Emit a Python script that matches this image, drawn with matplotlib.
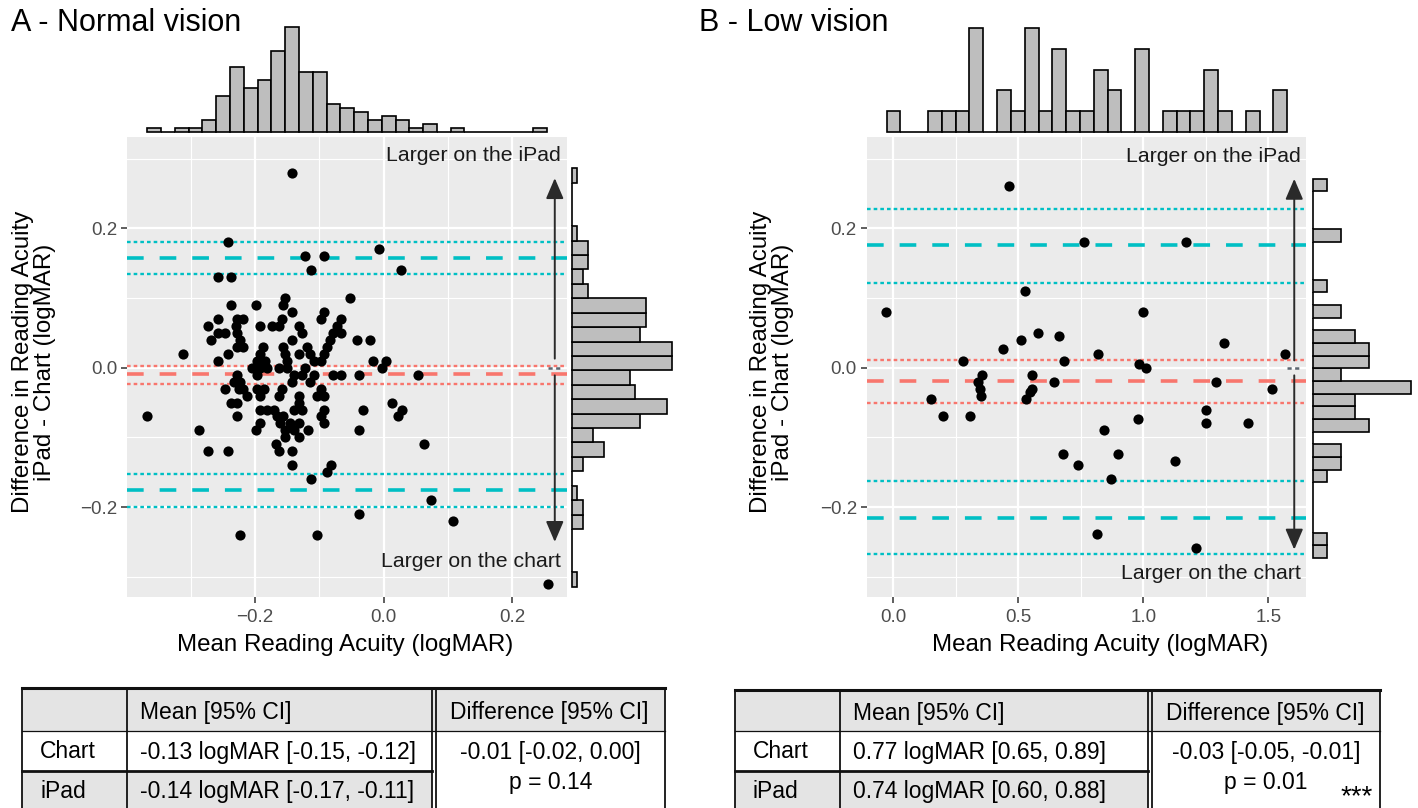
import numpy as np
import matplotlib
matplotlib.use('Agg')
import matplotlib.pyplot as plt
from matplotlib.patches import Rectangle

plt.rcParams['font.family'] = ['Liberation Sans', 'DejaVu Sans']
plt.rcParams['lines.scale_dashes'] = False

W, H = 1418, 808

# ---- panel A: normal vision (mean acuity, difference iPad - chart) ----
a_x = [-0.142, -0.242, -0.008, -0.123, -0.092, -0.113, 0.027, -0.258, -0.237,
       -0.153, -0.053, -0.237, -0.198, -0.157, -0.142, -0.092,
       -0.257, -0.228, -0.218, -0.158, -0.098, -0.067,
       -0.273, -0.230, -0.193, -0.174, -0.162, -0.132, -0.073,
       -0.257, -0.247, -0.228, -0.127, -0.078, -0.067,
       -0.268, -0.223, -0.142, -0.083, -0.042, -0.022,
       -0.228, -0.218, -0.188, -0.157, -0.119, -0.088,
       -0.312, -0.242, -0.192, -0.153, -0.132, -0.114, -0.093,
       -0.257, -0.197, -0.184, -0.150, -0.109, -0.098, -0.017, 0.004,
       -0.205, -0.192, -0.181, -0.163, -0.150, -0.123, -0.003,
       -0.228, -0.197, -0.140, -0.127, -0.109, -0.078, -0.067, -0.038, 0.053,
       -0.233, -0.223, -0.142, -0.114,
       -0.247, -0.225, -0.218, -0.197, -0.186, -0.158, -0.098,
       -0.212, -0.192, -0.163, -0.132, -0.104, -0.093,
       -0.237, -0.228, -0.132, 0.013,
       -0.193, -0.181, -0.171, -0.140, -0.127, -0.092, -0.032, 0.028,
       -0.368, -0.228, -0.166, -0.157, -0.098, 0.022,
       -0.193, -0.161, -0.145, -0.132, -0.092,
       -0.287, -0.198, -0.153, -0.140, -0.117, -0.038,
       -0.153, -0.132, -0.168, 0.062,
       -0.273, -0.242, -0.162, -0.142,
       -0.142, -0.082, -0.088, -0.113, 0.073, -0.038, 0.108, -0.223, -0.103, 0.255]
a_y = [0.28, 0.18, 0.17, 0.16, 0.16, 0.14, 0.14, 0.13, 0.13,
       0.10, 0.10, 0.09, 0.09, 0.09, 0.08, 0.08,
       0.07, 0.07, 0.07, 0.07, 0.07, 0.07,
       0.06, 0.06, 0.06, 0.06, 0.06, 0.06, 0.06,
       0.05, 0.05, 0.05, 0.05, 0.05, 0.05,
       0.04, 0.04, 0.04, 0.04, 0.04, 0.04,
       0.03, 0.03, 0.03, 0.03, 0.03, 0.03,
       0.02, 0.02, 0.02, 0.02, 0.02, 0.02, 0.02,
       0.01, 0.01, 0.01, 0.01, 0.01, 0.01, 0.01, 0.01,
       0.00, 0.00, 0.00, 0.00, 0.00, 0.00, 0.00,
       -0.01, -0.01, -0.01, -0.01, -0.01, -0.01, -0.01, -0.01, -0.01,
       -0.02, -0.02, -0.02, -0.02,
       -0.03, -0.03, -0.03, -0.03, -0.03, -0.03, -0.03,
       -0.04, -0.04, -0.04, -0.04, -0.04, -0.04,
       -0.05, -0.05, -0.05, -0.05,
       -0.06, -0.06, -0.06, -0.06, -0.06, -0.06, -0.06, -0.06,
       -0.07, -0.07, -0.07, -0.07, -0.07, -0.07,
       -0.08, -0.08, -0.08, -0.08, -0.08,
       -0.09, -0.09, -0.09, -0.09, -0.09, -0.09,
       -0.10, -0.10, -0.11, -0.11,
       -0.12, -0.12, -0.12, -0.12,
       -0.14, -0.14, -0.15, -0.16, -0.19, -0.21, -0.22, -0.24, -0.24, -0.31]

# marginal histogram counts
a_top_start, a_top_width = -0.3677, 0.02145
a_top_counts = [1, 0, 1, 1, 3, 9, 16, 11, 13, 20, 26, 15, 15, 7, 6, 5, 3, 4, 3, 1,
                2, 0, 1, 0, 0, 0, 0, 0, 1]
a_right_start, a_right_width = -0.3142, 0.02069
a_right_counts = [1, 0, 0, 0, 2, 2, 1, 0, 2, 6, 4, 13, 18, 12, 11, 19, 19, 13, 14, 14,
                  3, 2, 3, 3, 1, 0, 0, 0, 1]

# bias and limits of agreement: (value, lower CI, upper CI)
a_bias = (-0.0096, -0.023, 0.003)
a_upper = (0.158, 0.135, 0.180)
a_lower = (-0.176, -0.200, -0.153)

# ---- panel B: low vision ----
b_x = [0.463, 0.763, 1.171, 0.527, -0.027, 1.000, 0.581, 0.664, 0.511, 1.323,
       0.439, 0.821, 1.568, 0.279, 0.683, 0.984, 1.011, 0.357, 0.556, 0.341,
       0.643, 1.291, 0.347, 0.557, 1.515, 0.547, 0.353, 0.151, 0.533, 1.251,
       0.199, 0.308, 0.979, 1.251, 1.420, 0.845, 0.680, 0.899, 0.741, 1.128,
       0.872, 0.815, 1.211]
b_y = [0.26, 0.18, 0.18, 0.11, 0.08, 0.08, 0.05, 0.045, 0.04, 0.035,
       0.027, 0.02, 0.02, 0.01, 0.01, 0.006, 0.0, -0.01, -0.01, -0.02,
       -0.02, -0.02, -0.03, -0.03, -0.03, -0.035, -0.04, -0.045, -0.045, -0.06,
       -0.07, -0.07, -0.074, -0.08, -0.08, -0.089, -0.124, -0.124, -0.139, -0.134,
       -0.159, -0.239, -0.259]

b_top_start, b_top_width = -0.0264, 0.05524
b_top_counts = [1, 0, 0, 1, 1, 1, 5, 0, 2, 1, 5, 1, 4, 1, 1, 3, 2, 0, 4, 0,
                1, 1, 1, 3, 1, 0, 1, 0, 2]
b_right_start, b_right_width = -0.2732, 0.01815
b_right_counts = [1, 1, 0, 0, 0, 0, 1, 2, 2, 0, 4, 3, 3, 7, 2, 4, 4, 3, 0, 2,
                  0, 1, 0, 0, 0, 2, 0, 0, 0, 1]

b_bias = (-0.019, -0.0507, 0.0105)
b_upper = (0.1756, 0.122, 0.228)
b_lower = (-0.215, -0.268, -0.162)

# ---- tables ----
tab_header = ['', 'Mean [95% CI]', 'Difference [95% CI]']
tab_rows = ['Chart', 'iPad']
a_means = ['-0.13 logMAR [-0.15, -0.12]', '-0.14 logMAR [-0.17, -0.11]']
a_diff = ['-0.01 [-0.02, 0.00]', 'p = 0.14']
b_means = ['0.77 logMAR [0.65, 0.89]', '0.74 logMAR [0.60, 0.88]']
b_diff = ['-0.03 [-0.05, -0.01]', 'p = 0.01']
b_sig = '***'

CYAN = '#00BFC4'
RED = '#F8766D'
PANEL = '#EBEBEB'
HISTFILL = '#BEBEBE'

fig = plt.figure(figsize=(W / 100, H / 100), dpi=100)


def px_axes(x0, y0, x1, y1):
    return fig.add_axes([x0 / W, 1 - y1 / H, (x1 - x0) / W, (y1 - y0) / H])


def fmt(v, pos):
    return ('%.1f' % v).replace('-', '\u2212')


def main_panel(box, xlim, ylim, xs, ys, xticks, xminor, bias, upper, lower,
               arrow_x, up, down, seg, txt_x, txt_up, txt_down):
    ax = px_axes(*box)
    ax.set_facecolor(PANEL)
    ax.set_xlim(xlim)
    ax.set_ylim(ylim)
    for s in ax.spines.values():
        s.set_visible(False)
    ax.set_xticks(xticks)
    ax.set_xticks(xminor, minor=True)
    ax.set_yticks([-0.2, 0.0, 0.2])
    ax.set_yticks([-0.3, -0.1, 0.1, 0.3], minor=True)
    ax.xaxis.set_major_formatter(plt.FuncFormatter(fmt))
    ax.yaxis.set_major_formatter(plt.FuncFormatter(fmt))
    ax.grid(True, which='major', color='white', lw=1.6)
    ax.grid(True, which='minor', color='white', lw=0.8)
    ax.set_axisbelow(True)
    ax.tick_params(which='major', length=4, width=1.1, color='#333333',
                   labelsize=13.5, labelcolor='#4D4D4D', pad=3)
    ax.tick_params(axis='x', which='major', pad=5)
    ax.tick_params(which='minor', length=0)

    dash = (0, (12.0, 11.5))
    dot = (0, (2.6, 2.2))
    for vals, col in ((upper, CYAN), (lower, CYAN), (bias, RED)):
        ax.axhline(vals[0], color=col, lw=2.6, ls=dash, zorder=2)
        ax.axhline(vals[1], color=col, lw=1.7, ls=dot, zorder=2)
        ax.axhline(vals[2], color=col, lw=1.7, ls=dot, zorder=2)

    ax.scatter(xs, ys, s=54, color='black', linewidths=0, zorder=3)

    ap = dict(arrowstyle='-|>,head_length=0.7,head_width=0.3', color='#2A2A2A',
              lw=1.4, mutation_scale=18, shrinkA=0, shrinkB=0)
    ax.annotate('', xy=(arrow_x, up[1]), xytext=(arrow_x, up[0]), arrowprops=ap, zorder=4)
    ax.annotate('', xy=(arrow_x, down[1]), xytext=(arrow_x, down[0]), arrowprops=ap, zorder=4)
    ax.plot(seg, [0, 0], color='#5C6670', lw=1.8, ls=(0, (3, 2.5)), zorder=4)
    ax.text(txt_x, txt_up, 'Larger on the iPad', ha='right', va='center',
            fontsize=15.3, color='#1A1A1A')
    ax.text(txt_x, txt_down, 'Larger on the chart', ha='right', va='center',
            fontsize=15.3, color='#1A1A1A')
    return ax


def top_hist(box, xlim, start, width, counts):
    ax = px_axes(*box)
    ax.set_xlim(xlim)
    ax.set_ylim(0, max(counts))
    left = start + width * np.arange(len(counts))
    ax.bar(left, counts, width=width, align='edge', color=HISTFILL,
           edgecolor='black', lw=1.2, clip_on=False)
    ax.axis('off')


def right_hist(box, ylim, start, width, counts):
    ax = px_axes(*box)
    ax.set_ylim(ylim)
    ax.set_xlim(0, max(counts))
    bottom = start + width * np.arange(len(counts))
    ax.barh(bottom, counts, height=width, align='edge', color=HISTFILL,
            edgecolor='black', lw=1.2, clip_on=False)
    ax.axis('off')


ylim = (-0.329, 0.331)

# panel A
main_panel((127, 137, 567, 597), (-0.399, 0.285), ylim, a_x, a_y,
           [-0.2, 0.0, 0.2], [-0.3, -0.1, 0.1], a_bias, a_upper, a_lower,
           0.266, (0.013, 0.272), (-0.011, -0.250), (0.255, 0.277),
           0.275, 0.304, -0.278)
top_hist((127, 27, 567, 132.3), (-0.399, 0.285), a_top_start, a_top_width, a_top_counts)
right_hist((572, 137, 672, 597), ylim, a_right_start, a_right_width, a_right_counts)

# panel B
main_panel((866.7, 137, 1306, 597), (-0.106, 1.651), ylim, b_x, b_y,
           [0.0, 0.5, 1.0, 1.5], [0.25, 0.75, 1.25], b_bias, b_upper, b_lower,
           1.604, (0.0105, 0.271), (-0.011, -0.261), (1.577, 1.633),
           1.63, 0.303, -0.295)
top_hist((866.7, 27.7, 1306, 132.3), (-0.106, 1.651), b_top_start, b_top_width, b_top_counts)
right_hist((1312.7, 137, 1410.7, 597), ylim, b_right_start, b_right_width, b_right_counts)

# titles and axis labels
fig.text(11 / W, 1 - 23 / H, 'A - Normal vision', fontsize=22, va='center', ha='left')
fig.text(699 / W, 1 - 23 / H, 'B - Low vision', fontsize=22, va='center', ha='left')
ylab = 'Difference in Reading Acuity\niPad - Chart (logMAR)'
fig.text(34 / W, 1 - 362 / H, ylab, rotation=90, fontsize=17.4, ha='center',
         va='center', linespacing=0.95)
fig.text(772 / W, 1 - 362 / H, ylab, rotation=90, fontsize=17.4, ha='center',
         va='center', linespacing=0.95)
fig.text(345 / W, 1 - 645 / H, 'Mean Reading Acuity (logMAR)', fontsize=17.4,
         ha='center', va='center')
fig.text(1100 / W, 1 - 645 / H, 'Mean Reading Acuity (logMAR)', fontsize=17.4,
         ha='center', va='center')

# tables drawn on a full-figure overlay in pixel units
tx = fig.add_axes([0, 0, 1, 1])
tx.set_xlim(0, W)
tx.set_ylim(H, 0)
tx.axis('off')
TGRAY = '#E4E4E4'


def draw_table(xe, ye, means, diff, sig=None):
    left, c1, c2a, c2b, right = xe
    top, r1, r2, bot = ye
    tx.add_patch(Rectangle((left, top), right - left, r1 - top, fc=TGRAY, ec='none'))
    tx.add_patch(Rectangle((left, r1), c2a - left, r2 - r1, fc='white', ec='none'))
    tx.add_patch(Rectangle((left, r2), c2a - left, bot - r2, fc=TGRAY, ec='none'))
    tx.add_patch(Rectangle((c2b, r1), right - c2b, bot - r1, fc='white', ec='none'))
    k = '#111111'
    tx.plot([left, right], [top, top], color=k, lw=2.2)
    tx.plot([left, right], [r1, r1], color=k, lw=0.9)
    tx.plot([left, c2a], [r2, r2], color=k, lw=2.0)
    for xv in (left, c1, c2a, c2b, right):
        tx.plot([xv, xv], [top, bot], color=k, lw=1.3)
    fs = 16.5
    tx.text(c1 + 13, (top + r1) / 2 + 3, tab_header[1], fontsize=fs, va='center')
    tx.text(c2b + 14, (top + r1) / 2 + 3, tab_header[2], fontsize=fs, va='center')
    for i, (name, m) in enumerate(zip(tab_rows, means)):
        yc = (r1 + r2) / 2 + 1 if i == 0 else (r2 + 812) / 2
        tx.text(left + 18, yc, name, fontsize=fs, va='center')
        tx.text(c1 + 13, yc, m, fontsize=fs, va='center')
    xc = (c2b + right) / 2
    tx.text(xc, 753, diff[0], fontsize=fs, va='center', ha='center')
    tx.text(xc, 782, diff[1], fontsize=fs, va='center', ha='center')
    if sig:
        tx.text(right - 7, 797, sig, fontsize=20, va='center', ha='right')


draw_table((22, 127, 432, 436, 665), (688, 731, 771, 812), a_means, a_diff)
draw_table((735, 840, 1148, 1152, 1380), (690, 731, 771, 812), b_means, b_diff, b_sig)

fig.savefig('out.png', dpi=100)
